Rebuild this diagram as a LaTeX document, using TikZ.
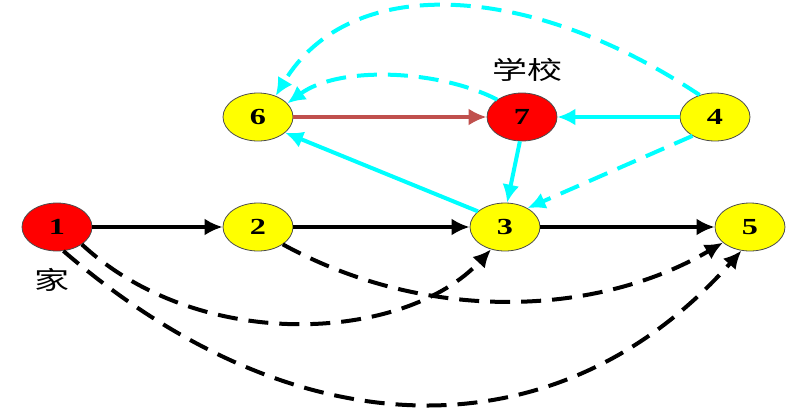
\documentclass[tikz,border=0pt]{standalone}
\usepackage{fontspec}
\setmainfont{Liberation Serif}
\newfontfamily\cjk{Noto Sans CJK SC}
\usetikzlibrary{arrows.meta,shapes.geometric}
\definecolor{nodered}{HTML}{FF0000}
\definecolor{nodeyellow}{HTML}{FFFF00}
\definecolor{cyanline}{HTML}{00FFFF}
\definecolor{brownline}{HTML}{C0504D}
\newcommand{\wide}[1]{\scalebox{1.4}[1]{#1}}
\tikzset{
  vtx/.style={ellipse,draw=black!70,line width=0.8pt,minimum width=70pt,minimum height=48pt,inner sep=0pt,font=\fontsize{23}{23}\selectfont\bfseries},
  yv/.style={vtx,fill=nodeyellow},
  rv/.style={vtx,fill=nodered},
  blk/.style={line width=4pt,draw=black,-{Latex[length=18pt,width=17pt]}},
  blkd/.style={blk,dash pattern=on 20pt off 11pt},
  cyn/.style={line width=4pt,draw=cyanline,-{Latex[length=18pt,width=17pt]}},
  cynd/.style={cyn,dash pattern=on 20pt off 11pt},
  brn/.style={line width=4pt,draw=brownline,-{Latex[length=18pt,width=17pt]}},
  lbl/.style={font=\cjk\fontsize{25}{25}\selectfont}
}
\begin{document}
\begin{tikzpicture}[x=1pt,y=-1pt]
\useasboundingbox (0,0) rectangle (786,418);
\node[rv] (n1) at (57,227) {\wide{1}};
\node[yv] (n2) at (258,227) {\wide{2}};
\node[yv] (n3) at (505,227) {\wide{3}};
\node[yv] (n5) at (750,227) {\wide{5}};
\node[yv] (n6) at (258,117) {\wide{6}};
\node[rv] (n7) at (522,117) {\wide{7}};
\node[yv] (n4) at (715,117) {\wide{4}};
\node[lbl] (school) at (527,70) {\wide{学校}};
\node[lbl] (home) at (52,280) {\wide{家}};
% solid black
\draw[blk] (n1) -- (n2);
\draw[blk] (n2) -- (n3);
\draw[blk] (n3) -- (n5);
% brown
\draw[brn] (n6) -- (n7);
% cyan solid
\draw[cyn] (n4) -- (n7);
\draw[cyn] (n7.265) -- (n3.85);
\draw[cyn] (n3.150) -- (n6.-30);
% cyan dashed
\draw[cynd] (n4.125) .. controls (530,-18) and (350,-28) .. (n6.50);
\draw[cynd] (n4.-140) -- (n3.40);
\draw[cynd] (n7.145) .. controls (440,70) and (340,65) .. (n6.25);
% black dashed
\draw[blkd] (n1.-35) .. controls (200,354) and (405,342) .. (n3.-122);
\draw[blkd] (n2.-35) .. controls (430,325) and (600,315) .. (n5.-150);
\draw[blkd] (n1.-75) .. controls (300,455) and (560,455) .. (n5.-110);
\end{tikzpicture}
\end{document}
